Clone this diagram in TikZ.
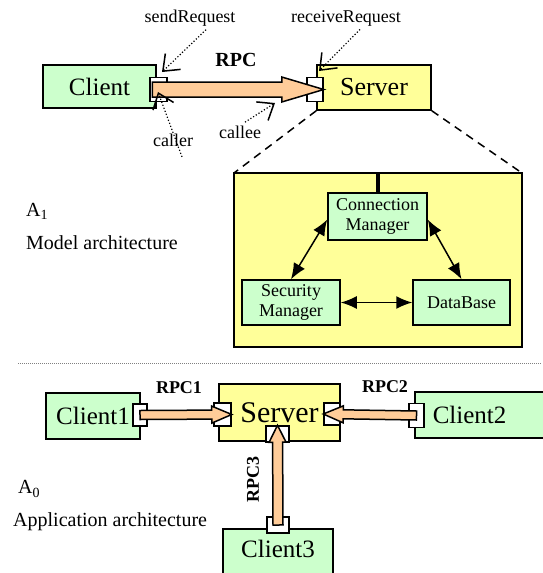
\documentclass[tikz,border=0pt]{standalone}
\usepackage{fontspec}
\setmainfont{Liberation Serif}
\usetikzlibrary{positioning, calc, arrows.meta}
\definecolor{compgreen}{HTML}{CCFFCC}
\definecolor{compyellow}{HTML}{FFFF99}
\definecolor{rpcorange}{HTML}{FFCC99}

% block arrow: start, tip, shaft half width, head half width, head length
\newcommand{\rpcarrow}[5]{%
  \coordinate (hb) at ($(#2)!#5!(#1)$);
  \filldraw[rpc] ($(#1)!#3!90:(#2)$) -- ($(hb)!#3!90:(#2)$) -- ($(hb)!#4!90:(#2)$)
    -- (#2) -- ($(hb)!#4!-90:(#2)$) -- ($(hb)!#3!-90:(#2)$) -- ($(#1)!#3!-90:(#2)$) -- cycle;
}

\begin{document}
\begin{tikzpicture}[x=1pt, y=-1pt,
    comp/.style={draw, line width=1.5pt, fill=compgreen, inner sep=0pt, font=\fontsize{25}{25}\selectfont},
    srv/.style={comp, fill=compyellow, font=\fontsize{26}{26}\selectfont},
    port/.style={draw, line width=1.5pt, fill=white, inner sep=0pt, minimum width=16pt, minimum height=23pt},
    vport/.style={port, minimum width=23pt, minimum height=16pt},
    sub/.style={draw, line width=1.5pt, fill=compgreen, inner sep=0pt, align=center, font=\fontsize{18}{20}\selectfont},
    rpc/.style={draw, line width=1.5pt, fill=rpcorange},
    annot/.style={dotted, line width=1.2pt, -{Straight Barb[length=14pt, width=22pt, line width=1.5pt]}},
    both/.style={{Latex[length=16pt, width=13pt]}-{Latex[length=16pt, width=13pt]}, line width=1.5pt},
    lbl/.style={font=\fontsize{18}{18}\selectfont},
    rpclbl/.style={font=\bfseries\fontsize{18}{18}\selectfont},
    txt/.style={font=\fontsize{20}{22}\selectfont, anchor=west, inner sep=0pt},
  ]
  \useasboundingbox (0,0) rectangle (542,573);

  % Model architecture
  \node[comp, minimum width=113pt, minimum height=43pt] (client) at (99.5,86.5) {Client};
  \node[srv, minimum width=114pt, minimum height=45pt] (server) at (374,87.5) {Server};
  \node[port, minimum width=17pt, minimum height=24pt] (cport) at (158.5,89.5) {};
  \node[port, minimum height=24pt] (sport) at (315,89.5) {};
  \coordinate (rpcstart) at ($(cport.west)+(3,0)$);
  \rpcarrow{rpcstart}{sport.east}{7.5pt}{12.5pt}{42pt}
  \node[rpclbl, font=\bfseries\fontsize{20}{20}\selectfont] (rpc) at (236,60) {RPC};

  % port annotations
  \node[lbl] (sendreq) at (190,18) {sendRequest};
  \node[lbl] (recvreq) at (346,18) {receiveRequest};
  \node[lbl] (caller) at (173,140) {caller};
  \node[lbl] (callee) at (240,132) {callee};
  \coordinate (sendtip) at (162,72);
  \coordinate (recvtip) at (319,71);
  \coordinate (callertip) at (158,92);
  \coordinate (calleetip) at (275,103);
  \coordinate (callertail) at ($(caller.south)+(9,7)$);
  \draw[annot] ($(sendreq.south)+(16,0)$) -- (sendtip);
  \draw[annot] ($(recvreq.south)+(14,0)$) -- (recvtip);
  \draw[annot] (callertail) -- (callertip);
  \draw[annot] ($(callee.north)+(5,0)$) -- (calleetip);

  % zoom into the server
  \draw[line width=1.5pt, dash pattern=on 8pt off 6pt] (server.south west) -- (234,173) coordinate (dnw);
  \draw[line width=1.5pt, dash pattern=on 8pt off 6pt] (server.south east) -- (522,173) coordinate (dne);
  \node[draw, line width=1.5pt, fill=compyellow, minimum width=288pt, minimum height=174pt] (detail) at (378,260) {};
  \node[sub, minimum width=99pt, minimum height=47pt] (cm) at (377.5,216.5) {Connection\\Manager};
  \node[sub, minimum width=98pt, minimum height=45pt] (sm) at (291,302.5) {Security\\Manager};
  \node[sub, minimum width=97pt, minimum height=45pt] (db) at (461.5,302.5) {DataBase};
  \draw[line width=4pt] (cm.north) -- (cm.north |- detail.north);
  \draw[both] ($(cm.west)+(0,3)$) -- (sm.north);
  \draw[both] ($(cm.east)+(0,3)$) -- (db.north);
  \draw[both] (sm.east) -- (db.west);

  \node[txt] (a1) at (26,211) {A\textsubscript{1}};
  \node[txt] (modeltxt) at (26,243) {Model architecture};

  % separator
  \draw[gray, line width=0.6pt, dash pattern=on 1pt off 1pt] (18,363) -- (542,363);

  % Application architecture
  \node[comp, minimum width=94pt, minimum height=46pt] (client1) at (93,416) {Client1};
  \node[srv, font=\fontsize{30}{30}\selectfont, minimum width=121pt, minimum height=57pt] (server0) at (279.5,412.5) {Server};
  \node[comp, anchor=west, inner xsep=18pt, text width=104pt, align=left, minimum height=46pt] (client2) at (414,415) {Client2};
  \node[comp, anchor=north, minimum width=110pt, inner ysep=11pt, text depth=30pt] (client3) at (278,528) {Client3};

  \node[port, minimum width=14pt, minimum height=22pt] (c1port) at (140,415) {};
  \node[port, minimum width=17pt] (slport) at (222.5,414.5) {};
  \node[port, minimum height=22pt] (srport) at (332,414) {};
  \node[vport] (sbport) at (277.5,434) {};
  \node[port, minimum width=15pt, minimum height=24pt] (c2port) at (416.5,415.5) {};
  \node[vport, minimum width=22pt] (c3port) at (278,525) {};

  \rpcarrow{c1port.center}{slport.east}{4.5pt}{8.5pt}{20pt}
  \rpcarrow{c2port.center}{srport.west}{4.5pt}{8.5pt}{20pt}
  \rpcarrow{c3port.center}{sbport.north}{5pt}{8.5pt}{17pt}

  \node[rpclbl] (rpc1) at (179,388) {RPC1};
  \node[rpclbl] (rpc2) at (385,387) {RPC2};
  \node[rpclbl, rotate=90] (rpc3) at (253,479) {RPC3};

  \node[txt] (a0) at (18,489) {A\textsubscript{0}};
  \node[txt] (apptxt) at (13,522) {Application architecture};
\end{tikzpicture}
\end{document}
